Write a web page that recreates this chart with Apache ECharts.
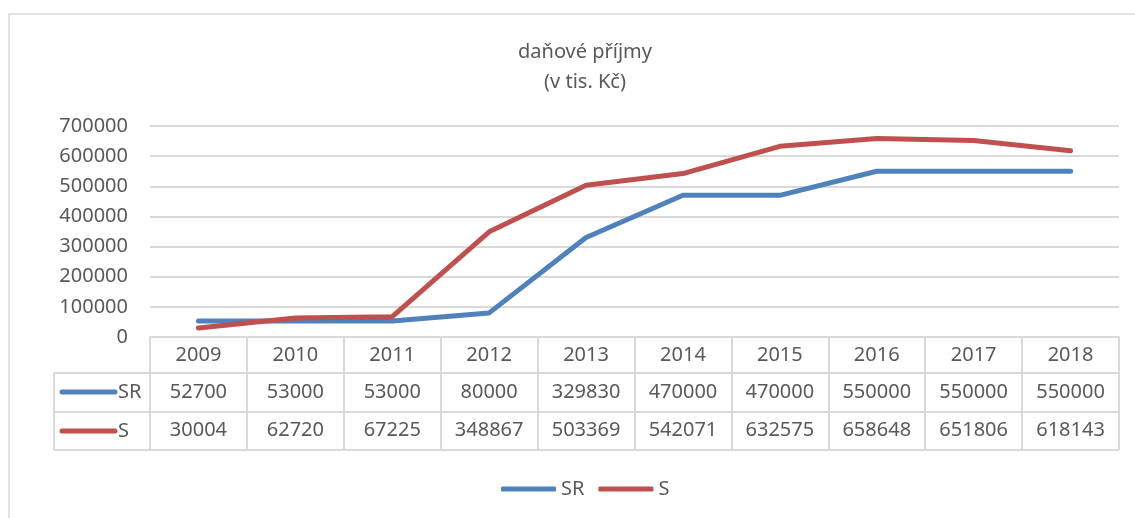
<!DOCTYPE html>
<html>
<head>
<meta charset="utf-8">
<script src="https://cdn.jsdelivr.net/npm/echarts@6/dist/echarts.min.js"></script>
<style>
  html, body { margin: 0; padding: 0; background: #fff; }
  #chart { width: 1135px; height: 518px; }
</style>
</head>
<body>
<div id="chart"></div>
<script>
const years = ['2009', '2010', '2011', '2012', '2013', '2014', '2015', '2016', '2017', '2018']
const srValues = [52700, 53000, 53000, 80000, 329830, 470000, 470000, 550000, 550000, 550000]
const sValues = [30004, 62720, 67225, 348867, 503369, 542071, 632575, 658648, 651806, 618143]
const yTicks = [0, 700000, 100000] // min, max, interval

const textColor = '#595959'
const lineColor = '#d9d9d9'
const blue = '#4F81BD'
const red = '#C0504D'
const font = 'Noto Sans'

const chart = echarts.init(document.getElementById('chart'))

// table rows under the axis (drawn as decoration)
const tableLines = [373, 412, 450].map(y => ({
  type: 'line',
  shape: { x1: 54, y1: y, x2: 1119, y2: y },
  style: { stroke: lineColor, lineWidth: 2 }
}))

chart.setOption({
  textStyle: { fontFamily: font },
  title: {
    text: 'daňové příjmy\n(v tis. Kč)',
    left: 580,
    top: 32,
    textAlign: 'center',
    textStyle: { fontSize: 20, fontWeight: 'normal', color: textColor, lineHeight: 30, fontFamily: font }
  },
  legend: {
    left: 496,
    top: 474,
    itemWidth: 55,
    itemHeight: 5,
    itemGap: 14,
    icon: 'roundRect',
    textStyle: { fontSize: 20, color: textColor },
    data: ['SR', 'S']
  },
  grid: { left: 150, right: 16, top: 126, bottom: 181 },
  xAxis: {
    type: 'category',
    data: years,
    boundaryGap: true,
    axisLine: { lineStyle: { color: lineColor, width: 2 } },
    axisTick: { show: true, length: 113, lineStyle: { color: lineColor, width: 2 } },
    axisLabel: {
      margin: 0,
      interval: 0,
      formatter: (v, i) => '{y|' + v + '}\n{v|' + srValues[i] + '}\n{v|' + sValues[i] + '}',
      rich: {
        y: { fontSize: 20, color: textColor, lineHeight: 36, fontFamily: font },
        v: { fontSize: 20, color: textColor, lineHeight: 38, fontFamily: font }
      }
    }
  },
  yAxis: {
    type: 'value',
    min: yTicks[0],
    max: yTicks[1],
    interval: yTicks[2],
    axisLabel: { fontSize: 20, color: textColor, margin: 22, formatter: v => String(v) },
    splitLine: { lineStyle: { color: lineColor, width: 2 } },
    axisLine: { show: false },
    axisTick: { show: false }
  },
  series: [
    {
      name: 'SR',
      type: 'line',
      data: srValues,
      symbol: 'none',
      color: blue,
      lineStyle: { width: 5, color: blue, cap: 'round', join: 'round' }
    },
    {
      name: 'S',
      type: 'line',
      data: sValues,
      symbol: 'none',
      color: red,
      lineStyle: { width: 5, color: red, cap: 'round', join: 'round' }
    }
  ],
  graphic: [
    {
      type: 'rect',
      shape: { x: 9, y: 14, width: 1140, height: 520 },
      style: { fill: 'none', stroke: lineColor, lineWidth: 1.5 },
      silent: true
    },
    ...tableLines,
    {
      type: 'line',
      shape: { x1: 54, y1: 373, x2: 54, y2: 450 },
      style: { stroke: lineColor, lineWidth: 2 }
    },
    {
      type: 'line',
      shape: { x1: 62, y1: 392, x2: 115, y2: 392 },
      style: { stroke: blue, lineWidth: 5, lineCap: 'round' }
    },
    {
      type: 'text',
      x: 118, y: 392,
      style: { text: 'SR', fontSize: 20, fill: textColor, fontFamily: font, textVerticalAlign: 'middle' }
    },
    {
      type: 'line',
      shape: { x1: 62, y1: 431, x2: 115, y2: 431 },
      style: { stroke: red, lineWidth: 5, lineCap: 'round' }
    },
    {
      type: 'text',
      x: 118, y: 431,
      style: { text: 'S', fontSize: 20, fill: textColor, fontFamily: font, textVerticalAlign: 'middle' }
    }
  ]
})
</script>
</body>
</html>
